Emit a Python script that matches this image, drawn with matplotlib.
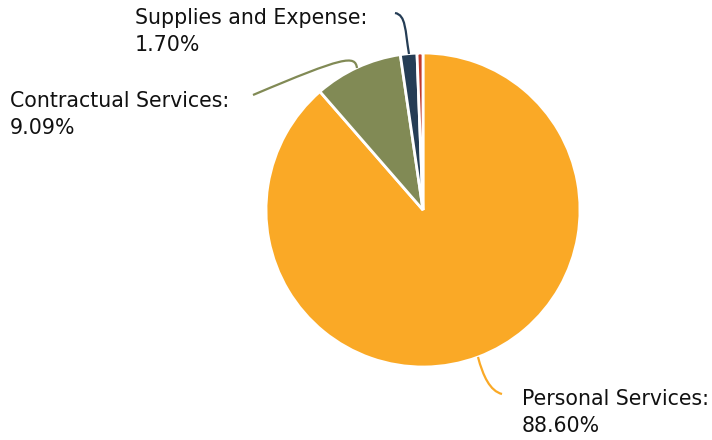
import numpy as np
import matplotlib.pyplot as plt
from matplotlib.path import Path
from matplotlib.patches import PathPatch

# Budget shares by category
categories = ["Personal Services", "Contractual Services", "Supplies and Expense", "Other"]
shares = [88.60, 9.09, 1.70, 0.61]
colors = ["#FAA926", "#818A55", "#253D55", "#C0392B"]
show_label = [True, True, True, False]

W, H = 712, 440
fig = plt.figure(figsize=(W / 100, H / 100), dpi=100)
ax = fig.add_axes([0, 0, 1, 1])

cx, cy, r = 423, H - 210, 157
ax.pie(shares, colors=colors, startangle=90, counterclock=False,
       center=(cx, cy), radius=r, frame=True,
       wedgeprops=dict(edgecolor="white", linewidth=2))
ax.set_xlim(0, W)
ax.set_ylim(0, H)
ax.set_aspect("equal")
ax.axis("off")


def py(y):
    return H - y


# leader lines (pixel coords, y down) and label anchors
leaders = {
    "Personal Services": [(478, 357), (483, 376), (490, 391), (502, 394)],
    "Contractual Services": [(357, 68), (355, 55), (345, 56), (253, 95)],
    "Supplies and Expense": [(409, 54), (405, 30), (406, 15), (395, 13)],
}
anchors = {
    "Personal Services": (522, 389),
    "Contractual Services": (10, 91),
    "Supplies and Expense": (135, 8),
}

for name, val, col, lab in zip(categories, shares, colors, show_label):
    if not lab:
        continue
    pts = [(x, py(y)) for x, y in leaders[name]]
    path = Path(pts, [Path.MOVETO, Path.CURVE4, Path.CURVE4, Path.CURVE4])
    ax.add_patch(PathPatch(path, facecolor="none", edgecolor=col, lw=1.6))
    tx, ty = anchors[name]
    ax.text(tx, py(ty), f"{name}:\n{val:.2f}%", ha="left", va="top",
            fontsize=14.8, family="DejaVu Sans", color="#111111",
            linespacing=1.45)

fig.savefig("out.png", dpi=100)
